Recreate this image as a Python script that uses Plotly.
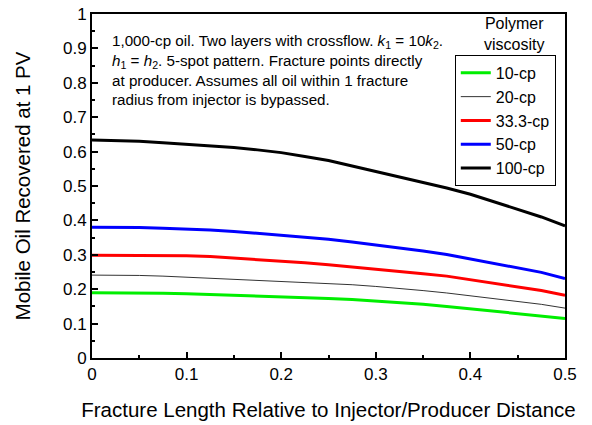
import plotly.graph_objects as go

# Fracture length relative to injector/producer distance
frac_len = [0.0, 0.025, 0.05, 0.075, 0.1, 0.125, 0.15, 0.175, 0.2, 0.225, 0.25,
            0.275, 0.3, 0.325, 0.35, 0.375, 0.4, 0.425, 0.45, 0.475, 0.5]

# Mobile oil recovered at 1 PV, one series per polymer viscosity
rec_10cp = [0.190, 0.190, 0.189, 0.188, 0.187, 0.185, 0.183, 0.181, 0.179, 0.176, 0.173,
            0.170, 0.166, 0.161, 0.156, 0.150, 0.143, 0.137, 0.130, 0.123, 0.115]
rec_20cp = [0.241, 0.241, 0.240, 0.238, 0.235, 0.232, 0.229, 0.226, 0.223, 0.220, 0.217,
            0.213, 0.208, 0.203, 0.196, 0.189, 0.181, 0.174, 0.165, 0.156, 0.145]
rec_33cp = [0.299, 0.299, 0.299, 0.298, 0.297, 0.295, 0.291, 0.287, 0.283, 0.277, 0.271,
            0.265, 0.259, 0.251, 0.245, 0.238, 0.228, 0.217, 0.206, 0.196, 0.182]
rec_50cp = [0.380, 0.380, 0.379, 0.377, 0.375, 0.372, 0.368, 0.362, 0.358, 0.351, 0.345,
            0.337, 0.329, 0.320, 0.311, 0.301, 0.288, 0.275, 0.263, 0.249, 0.231]
rec_100cp = [0.634, 0.633, 0.630, 0.626, 0.622, 0.618, 0.612, 0.605, 0.597, 0.586, 0.574,
             0.558, 0.542, 0.527, 0.510, 0.494, 0.476, 0.454, 0.434, 0.410, 0.384]

series_names = ["10-cp", "20-cp", "33.3-cp", "50-cp", "100-cp"]
series_vals = [rec_10cp, rec_20cp, rec_33cp, rec_50cp, rec_100cp]
series_colors = ["#00ee00", "#333333", "#ff0000", "#0000ff", "#000000"]
series_widths = [3, 1, 3, 3, 3]

x_ticks = [0, 0.1, 0.2, 0.3, 0.4, 0.5]
x_ticklabels = ["0", "0.1", "0.2", "0.3", "0.4", "0.5"]
y_ticks = [0, 0.1, 0.2, 0.3, 0.4, 0.5, 0.6, 0.7, 0.8, 0.9, 1.0]
y_ticklabels = ["0", "0.1", "0.2", "0.3", "0.4", "0.5", "0.6", "0.7", "0.8", "0.9", "1"]

FONT = "Liberation Sans, Arial, Helvetica, sans-serif"

fig = go.Figure()
for name, vals, color, width in zip(series_names, series_vals, series_colors, series_widths):
    fig.add_trace(go.Scatter(
        x=frac_len, y=vals, mode="lines", name=name,
        line=dict(color=color, width=width),
    ))

axis_common = dict(
    showgrid=False, zeroline=False, showline=True, linecolor="black", linewidth=2,
    mirror=True, ticks="inside", ticklen=6, tickwidth=1.5, tickcolor="black",
    tickfont=dict(family=FONT, size=17, color="black"), automargin=False,
)

fig.update_xaxes(
    range=[0, 0.5], tickvals=x_ticks, ticktext=x_ticklabels,
    minor=dict(dtick=0.05, ticks="inside", ticklen=3, tickwidth=1.5, tickcolor="black"),
    title=dict(text="Fracture Length Relative to Injector/Producer Distance",
               font=dict(family=FONT, size=20.5, color="black"), standoff=19),
    **axis_common,
)
fig.update_yaxes(
    range=[0, 1], tickvals=y_ticks, ticktext=y_ticklabels,
    minor=dict(dtick=0.05, ticks="inside", ticklen=3, tickwidth=1.5, tickcolor="black"),
    title=dict(text="Mobile Oil Recovered at 1 PV",
               font=dict(family=FONT, size=20.5, color="black"), standoff=27),
    **axis_common,
)

note = ("1,000-cp oil. Two layers with crossflow. <i>k</i><sub>1</sub> = 10<i>k</i><sub>2</sub>.<br>"
        "<i>h</i><sub>1</sub> = <i>h</i><sub>2</sub>. 5-spot pattern. Fracture points directly<br>"
        "at producer. Assumes all oil within 1 fracture<br>"
        "radius from injector is bypassed.")

fig.add_annotation(
    x=0.019, y=0.953, xref="x", yref="y", xanchor="left", yanchor="top",
    text=note, showarrow=False, align="left",
    font=dict(family=FONT, size=15.2, color="black"),
)
fig.add_annotation(
    x=0.892, y=1.002, xref="paper", yref="paper", xanchor="center", yanchor="top",
    text="Polymer<br>viscosity", showarrow=False, align="center",
    font=dict(family=FONT, size=16, color="black"),
)

fig.update_layout(
    width=592, height=425,
    margin=dict(l=92, r=27, t=14, b=67),
    paper_bgcolor="white", plot_bgcolor="white",
    font=dict(family=FONT, color="black"),
    legend=dict(
        x=0.767, y=0.881, xanchor="left", yanchor="top",
        bgcolor="white", bordercolor="black", borderwidth=1,
        font=dict(family=FONT, size=16, color="black"),
        tracegroupgap=0, itemwidth=30,
    ),
    showlegend=True,
)

fig.write_html("out.html")
